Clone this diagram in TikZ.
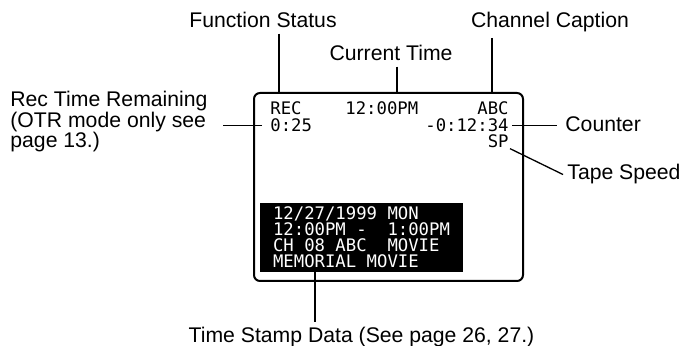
\documentclass[tikz,border=0pt]{standalone}
\usepackage{fontspec}
\setmainfont{Liberation Sans}
\newfontfamily\lcdfont{DejaVu Sans Mono}
\usepackage{tikz}
\usetikzlibrary{calc,positioning}

\begin{document}
\begin{tikzpicture}[x=0.5pt,y=-0.5pt,
  callout/.style={font=\fontsize{10.6}{10.25}\selectfont,inner xsep=0pt,inner ysep=2.5pt},
  lcd/.style={font=\lcdfont\fontsize{8.64}{8}\selectfont,inner sep=0pt},
  lead/.style={line width=0.65pt}]
\useasboundingbox (0,0) rectangle (685,346);
% screen
\node[draw,line width=1pt,rounded corners=3pt,minimum width=134.5pt,minimum height=94pt,inner sep=0pt] (screen) at (388.5,187) {};
% on-screen display
\node[lcd,anchor=base west] (rec) at (270,115) {REC};
\node[lcd,anchor=base west] (clock) at (345,115) {12:00PM};
\node[lcd,anchor=base east] (chan) at (509,115) {ABC};
\node[lcd,anchor=base west] (remain) at (270,132) {0:25};
\node[lcd,anchor=base east] (count) at (509,132) {-0:12:34};
\node[lcd,anchor=base east] (speed) at (509,148) {SP};
% time stamp block
\node[lcd,fill=black,text=white,align=left,minimum width=101.5pt,minimum height=34.5pt] (stamp) at (361.5,237.5)
  {12/27/1999 MON\\12:00PM - ~1:00PM\\CH 08 ABC ~MOVIE\\MEMORIAL MOVIE};
% callouts
\node[callout,anchor=base] (fstatus) at (263,28) {Function Status};
\node[callout,anchor=base] (ctime) at (391,61) {Current Time};
\node[callout,anchor=base] (ccap) at (550,28) {Channel Caption};
\node[callout,anchor=north west,align=left] (rtr) at (10,86) {Rec Time Remaining\\(OTR mode only see\\page 13.)};
\node[callout,anchor=base west] (counter) at (565,132) {Counter};
\node[callout,anchor=base west] (tspeed) at (567,180) {Tape Speed};
\node[callout,anchor=base] (tsd) at (361.5,343) {Time Stamp Data (See page 26, 27.)};
% leader lines
\coordinate (fs-foot) at (279,93);
\coordinate (ct-foot) at (397,93);
\coordinate (cc-foot) at (492,93);
\coordinate (ts-top) at (315,271);
\draw[lead] (fs-foot |- fstatus.south) -- (fs-foot);
\draw[lead] (ct-foot |- ctime.south) -- (ct-foot);
\draw[lead] (cc-foot |- ccap.south) -- (cc-foot);
\draw[lead,shorten <=4pt,shorten >=7.5pt] (remain.west) -- (remain.west -| rtr.east);
\draw[lead,shorten <=1.5pt,shorten >=4pt] (count.east) -- (count.east -| counter.west);
\draw[lead] ([xshift=0.5pt]speed.south east) -- ([xshift=-2pt]tspeed.west);
\draw[lead] (ts-top) -- (ts-top |- tsd.north);
\end{tikzpicture}
\end{document}
